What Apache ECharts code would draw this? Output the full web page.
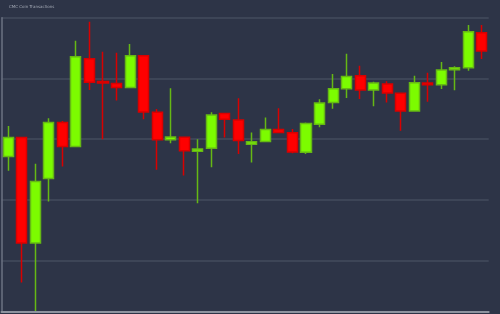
<!DOCTYPE html>
<html>
<head>
<meta charset="utf-8">
<script src="https://cdn.jsdelivr.net/npm/echarts@6/dist/echarts.min.js"></script>
<style>
html,body{margin:0;padding:0;background:#2d3447;}
#chart{width:500px;height:314px;}
</style>
</head>
<body>
<div id="chart"></div>
<script>
// Categories (trading periods)
const categories = ['1','2','3','4','5','6','7','8','9','10','11','12','13','14','15','16','17','18',
  '19','20','21','22','23','24','25','26','27','28','29','30','31','32','33','34','35','36'];
// OHLC values
const openValues  = [77.14,80.26,62.90,73.52,82.73,78.78,93.26,89.49,89.15,88.49,93.75,84.44,79.89,80.33,78.03,78.52,84.21,83.17,
  79.18,79.61,81.58,81.04,77.86,82.47,86.02,88.32,90.46,88.11,89.10,87.57,84.65,89.26,88.98,91.45,91.78,97.53];
const closeValues = [80.26,62.90,73.03,82.73,78.78,93.59,89.38,89.26,88.49,93.75,84.49,79.89,80.38,78.08,78.40,83.99,83.29,79.77,
  79.56,81.58,81.09,77.91,82.57,85.97,88.32,90.30,88.11,89.26,87.62,84.65,89.31,88.98,91.40,91.74,97.70,94.52];
const lowValues   = [74.79,56.41,51.70,69.74,75.49,78.78,88.11,80.00,86.35,88.39,83.29,74.95,79.34,74.01,69.47,75.40,80.26,77.58,
  76.15,79.50,80.99,77.70,77.58,81.97,85.03,86.79,86.63,85.43,86.02,81.37,84.65,86.18,88.27,88.06,91.28,93.21];
const highValues  = [82.19,80.30,75.94,83.45,83.01,96.22,99.34,94.41,94.24,95.67,93.75,84.98,88.39,80.33,80.00,84.44,84.30,86.74,
  81.09,83.55,85.10,81.69,82.73,86.58,90.74,94.08,92.11,89.47,89.54,87.60,90.46,90.95,92.71,92.01,98.80,98.80];

const titleText = 'CMC Coin Transactions';

const ohlc = categories.map((c, i) => [openValues[i], closeValues[i], lowValues[i], highValues[i]]);

const chart = echarts.init(document.getElementById('chart'), null, {renderer: 'canvas'});
chart.setOption({
  backgroundColor: '#2d3447',
  animation: false,
  title: {
    text: titleText,
    left: 4, top: 0, padding: 5,
    textStyle: {color: '#a3a9b5', fontSize: 4, fontWeight: 'normal', fontFamily: 'DejaVu Sans'}
  },
  grid: {left: 1.5, right: 11.3, top: 17.7, bottom: 2.3, containLabel: false},
  xAxis: {
    type: 'category',
    data: categories,
    boundaryGap: true,
    axisLine: {show: true, lineStyle: {color: '#8d939f', width: 2}},
    axisTick: {show: false},
    axisLabel: {show: false},
    splitLine: {show: false}
  },
  yAxis: {
    type: 'value',
    min: 51.6, max: 100,
    splitNumber: 5,
    axisLine: {show: true, lineStyle: {color: '#6b7282', width: 1.5}},
    axisTick: {show: false},
    axisLabel: {show: false},
    splitLine: {show: true, lineStyle: {color: '#434b5d', width: 1.5}}
  },
  series: [{
    type: 'candlestick',
    data: ohlc,
    barWidth: '78%',
    itemStyle: {
      color: '#7CFC00',
      borderColor: '#66b814',
      color0: '#FF0000',
      borderColor0: '#d80000',
      borderWidth: 1.5
    }
  }]
});
</script>
</body>
</html>
